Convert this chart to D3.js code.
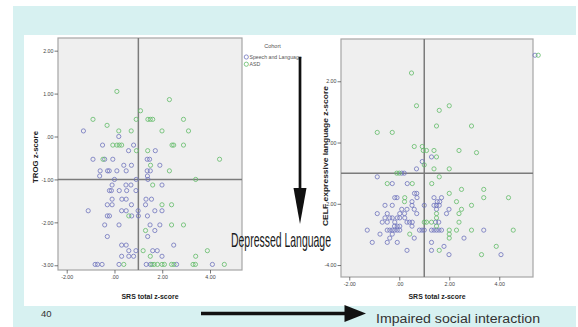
<!DOCTYPE html>
<html><head><meta charset="utf-8">
<script src="https://cdn.jsdelivr.net/npm/d3@7"></script>
<style>html,body{margin:0;padding:0;background:#fff;}svg{display:block;font-family:"Liberation Sans",Arial,sans-serif;}</style>
</head><body>
<svg id="c" width="578" height="327"></svg>
<script>
// ---------- data ----------
const cohorts = ["Speech and Language", "ASD"];
const xTicks = [-2, 0, 2, 4];
const trogTicks = [2, 1, 0, -1, -2, -3];
const celfTicks = [2, 0, -2, -4];
const refX = 1.0, refY = -1.0;

// TROG z-score vs SRS total z-score
const trogSpeech = [
 [-1.3,0.13],[0.18,0.0],[-0.5,-0.2],[0.8,-0.2],[0.59,-0.33],[1.71,-0.33],
 [-0.9,-0.53],[-0.41,-0.53],[-0.07,-0.53],[1.37,-0.53],[1.47,-0.53],
 [0.39,-0.67],[0.71,-0.67],[1.9,-0.67],
 [-0.6,-0.8],[-0.29,-0.8],[-0.22,-0.8],[0.1,-0.8],[0.49,-0.8],[1.37,-0.8],[1.5,-0.8],
 [-0.62,-0.92],[1.38,-0.92],
 [0.0,-1.0],[0.91,-1.0],[1.4,-1.0],
 [-0.1,-1.13],[0.48,-1.13],[0.69,-1.13],[1.99,-1.13],
 [-0.21,-1.26],[-0.13,-1.26],[0.2,-1.26],[0.51,-1.26],[0.9,-1.26],
 [-0.1,-1.46],[0.31,-1.46],[0.49,-1.46],[1.32,-1.46],[1.55,-1.46],
 [-0.3,-1.59],[-0.1,-1.59],[0.71,-1.59],[1.3,-1.59],
 [-1.1,-1.73],[0.3,-1.73],[0.49,-1.73],[0.99,-1.73],[1.69,-1.73],[1.99,-1.73],
 [-0.3,-1.85],[-0.21,-1.85],[0.72,-1.85],[1.0,-1.85],[1.38,-1.85],
 [-0.41,-2.06],[0.19,-2.06],[1.49,-2.06],[1.9,-2.06],
 [1.69,-2.19],
 [-0.3,-2.33],[1.39,-2.33],
 [0.3,-2.53],[0.49,-2.53],[2.48,-2.53],
 [0.6,-2.66],[0.9,-2.66],[1.6,-2.66],[1.79,-2.66],
 [0.3,-2.79],[0.6,-2.79],[0.8,-2.79],[1.99,-2.79],
 [-0.81,-2.98],[-0.71,-2.98],[-0.52,-2.98],[0.19,-2.98],[1.33,-2.98],[1.5,-2.98],[2.6,-2.98],[4.1,-2.98]
];
const trogASD = [
 [0.1,1.05],[2.3,0.86],[1.09,0.6],
 [-0.9,0.4],[0.91,0.4],[1.4,0.4],[1.5,0.4],[1.6,0.4],[2.89,0.4],
 [-0.31,0.26],
 [0.18,0.13],[0.7,0.13],[1.99,0.13],[3.1,0.13],
 [-0.07,-0.2],[0.1,-0.2],[0.2,-0.2],[0.3,-0.2],[2.41,-0.2],[2.48,-0.2],[2.89,-0.2],
 [0.92,-0.33],[1.39,-0.33],
 [-0.48,-0.53],[4.4,-0.53],
 [1.51,-0.67],
 [2.3,-0.8],
 [3.4,-1.0],
 [1.6,-1.13],
 [1.99,-1.59],[2.39,-1.59],
 [0.6,-1.85],
 [2.39,-2.06],[2.89,-2.06],
 [1.3,-2.19],
 [1.2,-2.66],[3.89,-2.66],
 [1.5,-2.79],[3.4,-2.79],
 [0.39,-2.98],[1.57,-2.98],[1.66,-2.98],[1.8,-2.98],[1.99,-2.98],[2.09,-2.98],[2.39,-2.98],[2.49,-2.98],[3.29,-2.98],[3.39,-2.98],[4.6,-2.98]
];

// CELF expressive language z-score vs SRS total z-score
const celfSpeech = [
 [1.29,-0.47],[0.92,-0.62],[0.69,-0.86],
 [0.1,-1.0],[0.2,-1.0],
 [-0.88,-1.12],
 [-0.28,-1.34],[0.32,-1.34],
 [0.61,-1.66],[0.7,-1.66],
 [-0.18,-1.8],[-0.09,-1.8],[0.71,-1.8],[1.39,-1.8],[1.69,-1.8],
 [0.51,-1.93],[1.52,-1.93],[1.62,-1.93],
 [-0.57,-2.05],[-0.28,-2.05],[0.51,-2.05],[1.0,-2.05],[1.39,-2.05],[1.49,-2.05],[1.6,-2.05],
 [0.1,-2.18],[0.31,-2.18],[0.6,-2.18],[1.49,-2.18],[1.99,-2.18],
 [-0.88,-2.32],[-0.48,-2.32],[0.02,-2.32],[0.21,-2.32],[0.7,-2.32],[1.89,-2.32],
 [-0.57,-2.46],[-0.38,-2.46],[-0.28,-2.46],[-0.08,-2.46],[0.02,-2.46],[0.22,-2.46],
 [-0.68,-2.6],[-0.48,-2.6],[-0.18,-2.6],[0.31,-2.6],[0.41,-2.6],[0.52,-2.6],[1.45,-2.6],[1.58,-2.6],
 [-0.19,-2.73],[-0.08,-2.73],[0.02,-2.73],[0.51,-2.73],
 [-1.28,-2.86],[-0.48,-2.86],[-0.38,-2.86],[-0.28,-2.86],[-0.18,-2.86],[-0.08,-2.86],[0.02,-2.86],
 [0.81,-2.86],[0.91,-2.86],[1.0,-2.86],[1.29,-2.86],[1.39,-2.86],[1.49,-2.86],[1.59,-2.86],[1.69,-2.86],[3.38,-2.86],
 [-0.77,-2.99],[-0.28,-2.99],
 [-0.38,-3.12],[0.6,-3.12],[2.59,-3.12],
 [-1.08,-3.26],[-0.48,-3.26],[-0.08,-3.26],[1.29,-3.26],
 [1.79,-3.39],
 [0.31,-3.52],[1.29,-3.52],
 [1.99,-3.66],[4.07,-3.66],
 [5.43,2.85]
];
const celfASD = [
 [0.49,2.27],[0.69,1.2],[1.6,1.05],[2.0,1.2],
 [-0.88,0.33],[-0.28,0.33],[1.49,0.54],[2.89,0.54],
 [0.6,-0.13],[0.92,-0.13],[0.96,-0.26],[1.09,-0.26],[1.39,-0.26],[2.39,-0.26],[3.09,-0.33],
 [1.49,-0.47],
 [1.0,-0.73],
 [1.39,-0.86],[2.0,-0.86],
 [-0.1,-1.0],[0.0,-1.0],
 [1.6,-1.12],
 [-0.48,-1.34],[0.52,-1.34],[1.3,-1.34],
 [2.49,-1.53],[3.38,-1.53],
 [2.0,-1.66],
 [0.22,-1.8],[3.38,-1.8],[4.37,-1.8],
 [0.21,-1.93],[2.29,-1.93],
 [2.89,-2.05],
 [2.49,-2.18],
 [1.49,-2.32],[2.39,-2.32],
 [1.49,-2.46],
 [1.0,-2.6],[1.09,-2.6],[1.29,-2.6],[2.39,-2.6],
 [1.49,-2.73],
 [2.0,-2.86],[2.29,-2.86],[2.89,-2.86],[4.56,-2.86],
 [0.42,-2.99],[2.0,-2.99],
 [2.0,-3.12],
 [3.88,-3.39],
 [1.6,-3.52],
 [3.29,-3.66],
 [5.56,2.85]
];

// ---------- drawing ----------
const svg = d3.select("#c");
const CYAN = "#d7f1f1", BLUE = "#6f74bd", GREEN = "#62bb68";

// slide background
svg.append("rect").attr("x",0).attr("y",0).attr("width",578).attr("height",327).attr("fill","#fff");
svg.append("rect").attr("x",13).attr("y",6).attr("width",563).attr("height",321).attr("fill",CYAN);
svg.append("rect").attr("x",24).attr("y",35).attr("width",554).attr("height",271).attr("fill","#fff");

const fmt = d => d === 0 ? ".00" : (d < 0 ? "-" : "") + Math.abs(d).toFixed(2);

function scatter(opt) {
  const x = d3.scaleLinear().domain(opt.xd).range([opt.x0, opt.x1]);
  const y = d3.scaleLinear().domain(opt.yd).range([opt.y0, opt.y1]);
  const g = svg.append("g");
  g.append("rect").attr("x",opt.x0).attr("y",opt.y0)
    .attr("width",opt.x1-opt.x0).attr("height",opt.y1-opt.y0)
    .attr("fill","#efefef").attr("stroke","#a5a5a5").attr("stroke-width",1.2);
  // reference lines
  g.append("line").attr("x1",x(refX)).attr("x2",x(refX)).attr("y1",opt.y0).attr("y2",opt.y1)
    .attr("stroke","#7b7b7b").attr("stroke-width",1.5);
  g.append("line").attr("x1",opt.x0).attr("x2",opt.x1).attr("y1",y(refY)).attr("y2",y(refY))
    .attr("stroke","#7b7b7b").attr("stroke-width",1.5);
  // axes
  const ax = g.append("g").attr("transform",`translate(0,${opt.y1})`)
    .call(d3.axisBottom(x).tickValues(xTicks).tickSize(3.5).tickPadding(2).tickFormat(fmt));
  const ay = g.append("g").attr("transform",`translate(${opt.x0},0)`)
    .call(d3.axisLeft(y).tickValues(opt.yTicks).tickSize(3.5).tickPadding(1).tickFormat(fmt));
  [ax, ay].forEach(a => {
    a.select(".domain").remove();
    a.selectAll("line").attr("stroke","#555").attr("stroke-width",0.8);
    a.selectAll("text").attr("fill","#444").style("font-size","5.3px")
      .style("font-family","'Liberation Sans',Arial,sans-serif");
  });
  // points
  const series = [[opt.speech, BLUE], [opt.asd, GREEN]];
  series.forEach(([data, col]) => {
    g.append("g").selectAll("circle").data(data).join("circle")
      .attr("cx", d => x(d[0])).attr("cy", d => y(d[1])).attr("r", 2.1)
      .attr("fill","none").attr("stroke",col).attr("stroke-width",0.8);
  });
  // titles
  g.append("text").attr("x",(opt.x0+opt.x1)/2).attr("y",299).attr("text-anchor","middle")
    .attr("font-size","7px").attr("font-weight","bold").attr("fill","#222")
    .attr("textLength",57).attr("lengthAdjust","spacingAndGlyphs").text("SRS total z-score");
  g.append("text").attr("transform",`translate(${opt.yTitleX},${opt.yTitleY}) rotate(-90)`)
    .attr("text-anchor","middle").attr("font-size","7px").attr("font-weight","bold").attr("fill","#222")
    .attr("textLength",opt.yTitleLen).attr("lengthAdjust","spacingAndGlyphs").text(opt.yTitle);
  return {x, y};
}

scatter({x0:58, x1:242, y0:38, y1:270, xd:[-2.365,5.34], yd:[2.295,-3.11],
  yTicks:trogTicks, speech:trogSpeech, asd:trogASD,
  yTitle:"TROG z-score", yTitleX:37.5, yTitleY:157, yTitleLen:52});
scatter({x0:341, x1:533, y0:39, y1:277, xd:[-2.33,5.35], yd:[3.38,-4.39],
  yTicks:celfTicks, speech:celfSpeech, asd:celfASD,
  yTitle:"CELF expressive language  z-score", yTitleX:328, yTitleY:156, yTitleLen:140});

// legend
const lg = svg.append("g");
lg.append("text").attr("x",272.5).attr("y",48).attr("text-anchor","middle")
  .attr("font-size","5.5px").attr("fill","#555").text("Cohort");
cohorts.forEach((c,i) => {
  lg.append("circle").attr("cx",246.3).attr("cy",57+i*7.2).attr("r",2.1)
    .attr("fill","none").attr("stroke", i===0?BLUE:GREEN).attr("stroke-width",0.8);
  lg.append("text").attr("x",249.5).attr("y",59+i*7.2).attr("font-size","5.2px").attr("fill","#555").text(c);
});

// annotation arrows
svg.append("line").attr("x1",300).attr("x2",300).attr("y1",57).attr("y2",192)
  .attr("stroke","#111").attr("stroke-width",2.7);
svg.append("polygon").attr("points","293.5,188 306.5,188 300,224").attr("fill","#111");
svg.append("text").attr("x",231).attr("y",247).attr("font-size","21px")
  .style("font-family","'Liberation Sans Narrow','Arial Narrow',sans-serif").attr("fill","#1a1a1a")
  .attr("textLength",100).attr("lengthAdjust","spacingAndGlyphs").text("Depressed Language");

svg.append("line").attr("x1",201).attr("x2",347).attr("y1",313.5).attr("y2",313.5)
  .attr("stroke","#111").attr("stroke-width",3.5);
svg.append("polygon").attr("points","344.5,305 344.5,322 366,313.5").attr("fill","#111");
svg.append("text").attr("x",376).attr("y",323).attr("font-size","12.5px").attr("fill","#333")
  .attr("textLength",164).attr("lengthAdjust","spacingAndGlyphs").text("Impaired social interaction");
svg.append("text").attr("x",41).attr("y",317).attr("font-size","9.5px").attr("fill","#333").text("40");
</script>
</body></html>
